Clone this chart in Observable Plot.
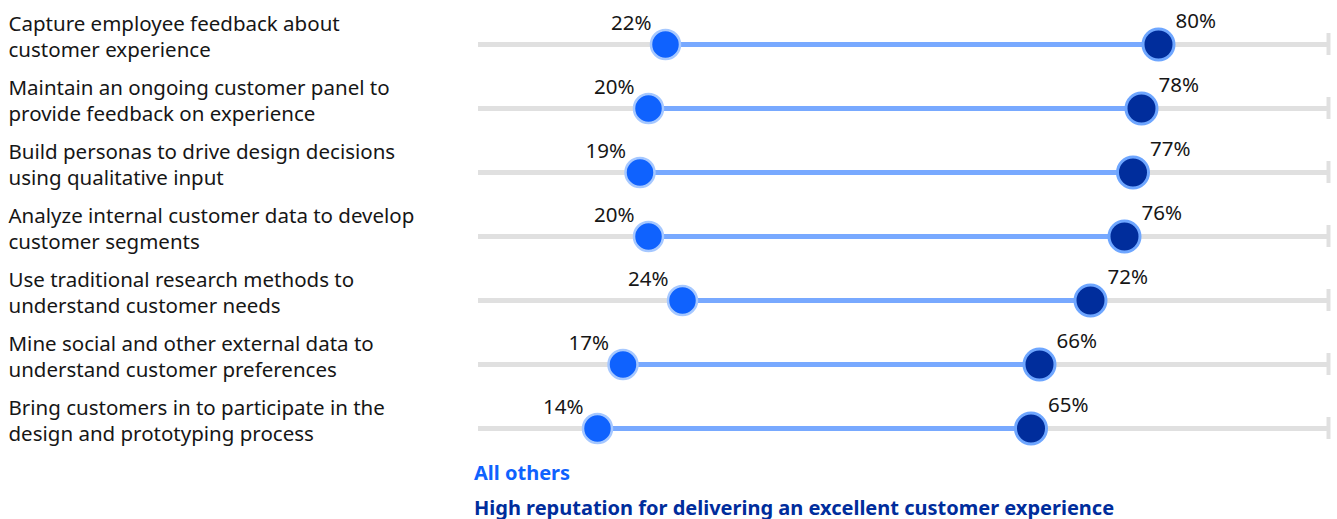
<!DOCTYPE html>
<html>
<head>
<meta charset="utf-8">
<script src="https://cdn.jsdelivr.net/npm/d3@7"></script>
<script src="https://cdn.jsdelivr.net/npm/@observablehq/plot@0.6"></script>
<style>
  html, body { margin: 0; padding: 0; background: #fff; }
  body { font-family: "Noto Sans", "Open Sans", sans-serif; width: 1337px; }
  #legend { margin-left: 474px; font-weight: 700; font-size: 20px; line-height: 24px; }
  #legend div { margin-top: 11px; white-space: nowrap; }
</style>
</head>
<body>
<div id="chart"></div>
<div id="legend"></div>
<script>
const categories = [
  "Capture employee feedback about\ncustomer experience",
  "Maintain an ongoing customer panel to\nprovide feedback on experience",
  "Build personas to drive design decisions\nusing qualitative input",
  "Analyze internal customer data to develop\ncustomer segments",
  "Use traditional research methods to\nunderstand customer needs",
  "Mine social and other external data to\nunderstand customer preferences",
  "Bring customers in to participate in the\ndesign and prototyping process"
];
const allOthers = [22, 20, 19, 20, 24, 17, 14];
const highReputation = [80, 78, 77, 76, 72, 66, 65];
const seriesNames = ["All others", "High reputation for delivering an excellent customer experience"];
const seriesColors = ["#0f62fe", "#002d9c"];

const rows = categories.map((c, i) => ({cat: c, lo: allOthers[i], hi: highReputation[i]}));

const chart = Plot.plot({
  width: 1337,
  height: 450,
  marginLeft: 478,
  marginRight: 9,
  marginTop: 43,
  marginBottom: 22,
  style: {fontFamily: "'Noto Sans', 'Open Sans', sans-serif", background: "#fff"},
  x: {domain: [0, 100], axis: null},
  y: {type: "point", domain: categories, padding: 0, axis: null},
  marks: [
    Plot.ruleY(rows, {y: "cat", x1: 0, x2: 100, stroke: "#e0e0e0", strokeWidth: 5}),
    Plot.ruleX(rows, {y1: "cat", y2: "cat", x: () => 100, stroke: "#e0e0e0", strokeWidth: 4, insetTop: -11, insetBottom: -11}),
    Plot.ruleY(rows, {y: "cat", x1: "lo", x2: "hi", stroke: "#78a9ff", strokeWidth: 5}),
    Plot.dot(rows, {y: "cat", x: "lo", r: 14.5, fill: seriesColors[0], stroke: "#a6c8ff", strokeWidth: 2.5}),
    Plot.dot(rows, {y: "cat", x: "hi", r: 15.5, fill: seriesColors[1], stroke: "#6ea6ff", strokeWidth: 3}),
    Plot.text(rows, {y: "cat", x: "lo", text: d => d.lo + "%", textAnchor: "end", dx: -14, dy: -21, fontSize: 20.5, fill: "#161616"}),
    Plot.text(rows, {y: "cat", x: "hi", text: d => d.hi + "%", textAnchor: "start", dx: 17, dy: -23, fontSize: 20.5, fill: "#161616"}),
    Plot.text(rows, {y: "cat", text: "cat", frameAnchor: "left", textAnchor: "start", dx: -470, dy: -9, fontSize: 20.5, lineHeight: 1.25, fill: "#161616"})
  ]
});
document.getElementById("chart").appendChild(chart);

const legend = document.getElementById("legend");
seriesNames.forEach((name, i) => {
  const d = document.createElement("div");
  d.textContent = name;
  d.style.color = seriesColors[i];
  legend.appendChild(d);
});
</script>
</body>
</html>
